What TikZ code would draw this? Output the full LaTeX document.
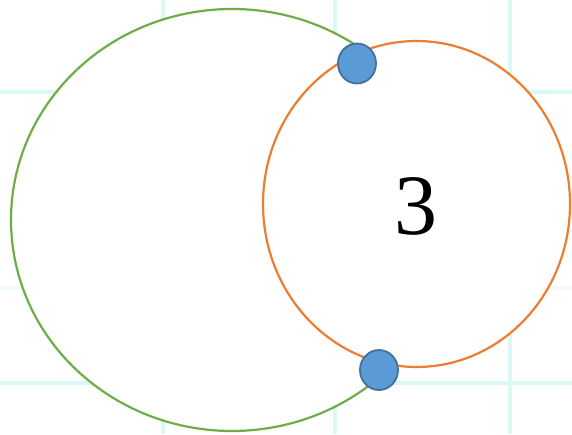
\documentclass[tikz,border=0pt]{standalone}
\usepackage{fontspec}
\setmainfont{Liberation Serif}
\usetikzlibrary{shapes.geometric}
\definecolor{ringgreen}{HTML}{70AD47}
\definecolor{ringorange}{HTML}{ED7D31}
\definecolor{dotfill}{HTML}{5B9BD5}
\definecolor{dotedge}{HTML}{41719C}
\definecolor{gridcyan}{RGB}{218,249,245}
\begin{document}
\begin{tikzpicture}[x=1pt,y=1pt,
    gridline/.style={gridcyan,line width=3.5pt},
    ring/.style={line width=2.2pt},
    dot/.style={ellipse,draw=dotedge,fill=dotfill,line width=1.8pt,
        minimum width=38pt,minimum height=40pt,inner sep=0pt}]

% page and faint background grid
\fill[white] (0,0) rectangle (572,434);
\useasboundingbox (0,0) rectangle (572,434);
\foreach \gx in {163,335,510} \draw[gridline] (\gx,0) -- (\gx,434);
\foreach \gy in {342,51} \draw[gridline] (0,\gy) -- (572,\gy);
\draw[gridline,opacity=0.4] (0,146) -- (572,146);

% the two rings
\fill[white] (232,214) ellipse (221 and 211);
\fill[white] (416.5,230) ellipse (153.5 and 163);
\draw[ring,ringgreen] ([shift={(50:221 and 211)}]232,214)
    arc[start angle=50,end angle=310,x radius=221,y radius=211];
\draw[ring,ringorange] (416.5,230) ellipse (153.5 and 163);

% contact points
\node[dot] (upper) at (357,370.5) {};
\node[dot] (lower) at (379,64) {};

\node (count) at (416,227.5) {\fontsize{86}{86}\selectfont 3};

\end{tikzpicture}
\end{document}
